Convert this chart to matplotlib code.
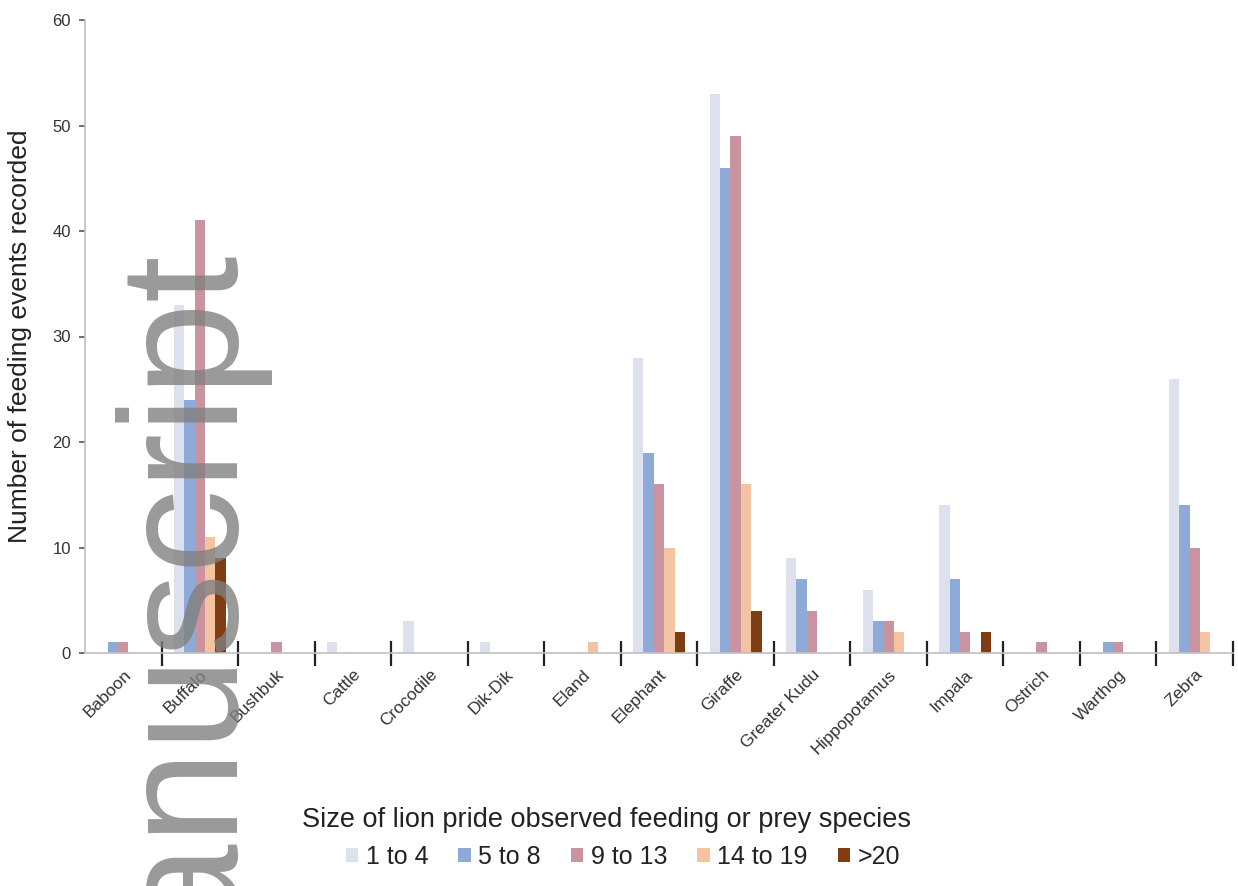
import matplotlib
matplotlib.use("Agg")

import matplotlib.pyplot as plt
import numpy as np

plt.rcParams["font.family"] = ["Liberation Sans", "DejaVu Sans"]

# ── Data ──────────────────────────────────────────────────────────────────────
species = ["Baboon", "Buffalo", "Bushbuk", "Cattle", "Crocodile", "Dik-Dik",
           "Eland", "Elephant", "Giraffe", "Greater Kudu", "Hippopotamus",
           "Impala", "Ostrich", "Warthog", "Zebra"]

pride_sizes = ["1 to 4", "5 to 8", "9 to 13", "14 to 19", ">20"]

size_1_4   = [0, 33, 0, 1, 3, 1, 0, 28, 53, 9, 6, 14, 0, 0, 26]
size_5_8   = [1, 24, 0, 0, 0, 0, 0, 19, 46, 7, 3, 7, 0, 1, 14]
size_9_13  = [1, 41, 1, 0, 0, 0, 0, 16, 49, 4, 3, 2, 1, 1, 10]
size_14_19 = [0, 11, 0, 0, 0, 0, 1, 10, 16, 0, 2, 0, 0, 0, 2]
size_20    = [0, 9, 0, 0, 0, 0, 0, 2, 4, 0, 0, 2, 0, 0, 0]

series = [size_1_4, size_5_8, size_9_13, size_14_19, size_20]
colors = ["#dde1ee", "#8eaad8", "#c9939f", "#f4c4a2", "#7e3d12"]

# ── Figure ────────────────────────────────────────────────────────────────────
fig = plt.figure(figsize=(12.38, 8.86), dpi=100, facecolor="white")
ax = fig.add_axes([85 / 1238, 1 - 653 / 886, 1148 / 1238, 633 / 886])

x = np.arange(len(species))
bar_w = 0.136
for i, (vals, col, lab) in enumerate(zip(series, colors, pride_sizes)):
    offs = (i - 2) * bar_w
    ax.bar(x + offs, vals, width=bar_w, color=col, label=lab, zorder=2)

ax.set_xlim(-0.5, len(species) - 0.5)
ax.set_ylim(0, 60)
ax.set_yticks(range(0, 61, 10))

for s in ["top", "right"]:
    ax.spines[s].set_visible(False)
for s in ["left", "bottom"]:
    ax.spines[s].set_color("#c0c0c0")
    ax.spines[s].set_linewidth(1.2)

ax.tick_params(axis="y", direction="out", length=4, width=1.2, color="#555555",
               labelsize=12, labelcolor="#333333", pad=6)

# category labels on major ticks, separators on minor ticks
ax.set_xticks(x)
ax.set_xticklabels(species, rotation=45, ha="right", rotation_mode="anchor",
                   fontsize=12.5, color="#333333")
ax.tick_params(axis="x", which="major", length=0, pad=10)
ax.set_xticks(np.arange(0.5, len(species)), minor=True)
ax.tick_params(axis="x", which="minor", direction="inout", length=18,
               width=1.6, color="#222222")

fig.text(20 / 1238, 1 - 336 / 886, "Number of feeding events recorded",
         rotation=90, ha="center", va="center", fontsize=19, color="#222222")

fig.text(607 / 1238, 1 - 820 / 886,
         "Size of lion pride observed feeding or prey species",
         ha="center", va="center", fontsize=19.5, color="#222222")

handles, labels = ax.get_legend_handles_labels()
fig.legend(handles, labels, loc="center", bbox_to_anchor=(623 / 1238, 1 - 857 / 886),
           ncol=5, frameon=False, fontsize=18, handlelength=0.5, handleheight=0.5,
           handletextpad=0.3, columnspacing=1.2, labelcolor="#222222")

# watermark
fig.text(183 / 1238, 1 - 243 / 886, "manuscript", rotation=90,
         ha="center", va="top", fontsize=121, color="#808080", alpha=0.8,
         zorder=10)

plt.savefig("out.png", dpi=100, facecolor=fig.get_facecolor())
